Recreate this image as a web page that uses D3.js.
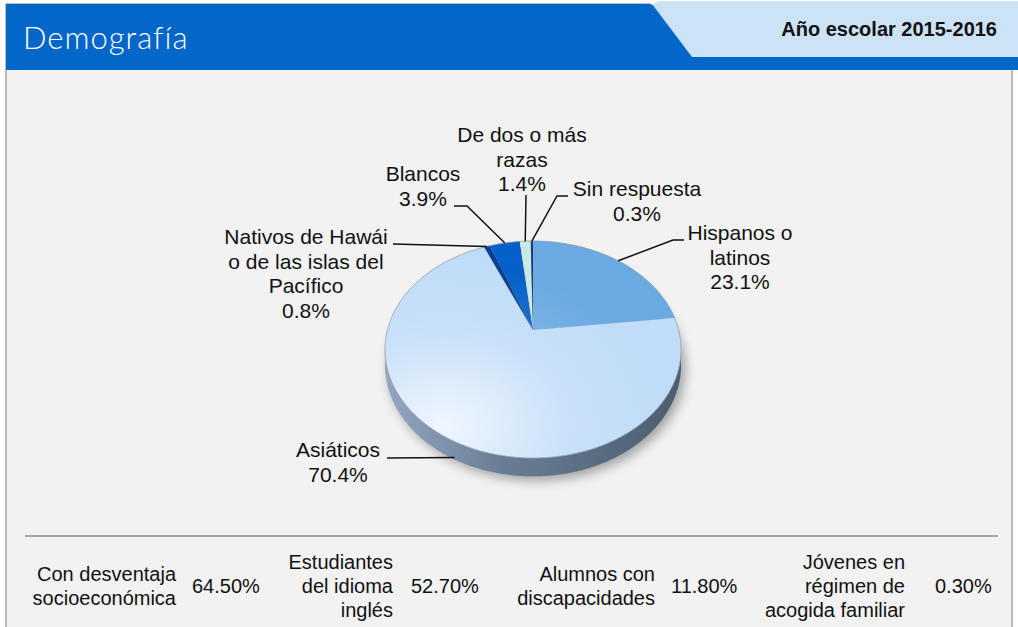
<!DOCTYPE html>
<html>
<head>
<meta charset="utf-8">
<script src="https://cdn.jsdelivr.net/npm/d3@7"></script>
<style>
  body { margin: 0; background: #fff; }
  svg { display: block; font-family: "Liberation Sans", Arial, Helvetica, sans-serif; }
</style>
</head>
<body>
<div id="chart"></div>
<script>
// data
const title = 'Demografía';
const schoolYear = 'Año escolar 2015-2016';
const categories = ['Hispanos o latinos', 'Asiáticos', 'Nativos de Hawái o de las islas del Pacífico', 'Blancos', 'De dos o más razas', 'Sin respuesta'];
const labelLines = [['Hispanos o', 'latinos'], ['Asiáticos'], ['Nativos de Hawái', 'o de las islas del', 'Pacífico'], ['Blancos'], ['De dos o más', 'razas'], ['Sin respuesta']];
const values = [23.1, 70.4, 0.8, 3.9, 1.4, 0.3];
const statLabels = [['Con desventaja', 'socioeconómica'], ['Estudiantes', 'del idioma', 'inglés'], ['Alumnos con', 'discapacidades'], ['Jóvenes en', 'régimen de', 'acogida familiar']];
const statValues = [64.5, 52.7, 11.8, 0.3];

const colors = ['#6aa9e2', '#c0dcf8', '#0a3d95', '#0560c9', '#cbe9e1', '#173f7c'];

// label placement: text centre, first baseline, leader points after the anchor
const labelPos = [
    { x: 740, y: 240, leader: [[673, 240], [684, 240]] },
    { x: 338, y: 457, leader: [[387, 458]], side: true },
    { x: 306, y: 244, leader: [[393, 244]] },
    { x: 423, y: 181, leader: [[467, 206], [454, 206]] },
    { x: 522, y: 142, leader: [[526, 195]] },
    { x: 637, y: 196, leader: [[557, 196], [568, 196]] }
];

const width = 1018, height = 627;
const svg = d3.select('#chart').append('svg').attr('width', width).attr('height', height);
const defs = svg.append('defs');

// panel
svg.append('rect').attr('x', 6).attr('y', 4).attr('width', 1006).attr('height', 640)
    .attr('fill', '#f2f2f2').attr('stroke', '#8f8f8f').attr('stroke-width', 1.2);
svg.append('rect').attr('x', 6).attr('y', 4).attr('width', 1012).attr('height', 66).attr('fill', '#0367c9');
svg.append('path').attr('d', 'M652,4 L659,1 L1018,1 L1018,57 L692,57 Z').attr('fill', '#cce2f5');
svg.append('path').attr('d', 'M646,0 L660,0 L652,5 Z').attr('fill', '#fff');
svg.append('text').attr('x', 23).attr('y', 49).attr('fill', '#fff')
    .style('font-family', 'Lato, "Open Sans", sans-serif').style('font-weight', 300).style('font-size', '31px')
    .style('letter-spacing', '1px')
    .text(title);
svg.append('text').attr('x', 997).attr('y', 36).attr('text-anchor', 'end').attr('fill', '#111')
    .style('font-weight', 'bold').style('font-size', '20px').text(schoolYear);

// pie projection (tilted disc seen in perspective)
const apex = { x: 533, y: 330 }, fx = 145.6, fy = 105, persp = 0.18, depth = 15;
function proj(a, r) {
    r = r == null ? 1 : r;
    const u = r * Math.sin(a), v = r * Math.cos(a), k = 1 + persp * v;
    return [apex.x + fx * u / k, apex.y - fy * v / k];
}
function drop(a) {
    const k = 1 + persp * Math.cos(a);
    return depth / k;
}
function arcPoints(a0, a1) {
    const n = Math.max(2, Math.ceil(Math.abs(a1 - a0) / 0.01));
    return d3.range(n + 1).map(i => a0 + (a1 - a0) * i / n);
}

const arcs = d3.pie().sort(null).value(d => d)(values);

// shadow
const shadow = defs.append('filter').attr('id', 'blur').attr('x', '-20%').attr('y', '-20%').attr('width', '140%').attr('height', '140%');
shadow.append('feGaussianBlur').attr('stdDeviation', 6);
const full = arcPoints(0, 2 * Math.PI);
const line = d3.line();
svg.append('path')
    .attr('d', line(full.map(a => { const p = proj(a); return [p[0] + 4, p[1] + drop(a) + 4]; })) + 'Z')
    .attr('fill', '#000').attr('opacity', 0.35).attr('filter', 'url(#blur)');

// side wall
const sideGrad = defs.append('linearGradient').attr('id', 'side').attr('x1', 0).attr('x2', 1).attr('y1', 0).attr('y2', 0);
sideGrad.append('stop').attr('offset', 0).attr('stop-color', '#93a8c0');
sideGrad.append('stop').attr('offset', 0.4).attr('stop-color', '#687d94');
sideGrad.append('stop').attr('offset', 1).attr('stop-color', '#4c5d70');
const aR = Math.acos(-persp), aL = 2 * Math.PI - aR;
const sideTop = arcPoints(aR, aL).map(a => proj(a));
const sideBot = arcPoints(aL, aR).map(a => { const p = proj(a); return [p[0], p[1] + drop(a)]; });
svg.append('path').attr('d', line(sideTop.concat(sideBot)) + 'Z').attr('fill', 'url(#side)');

// top face slices
svg.append('g').selectAll('path').data(arcs).enter().append('path')
    .attr('d', d => line([[apex.x, apex.y]].concat(arcPoints(d.startAngle, d.endAngle).map(a => proj(a)))) + 'Z')
    .attr('fill', (d, i) => colors[i]);

// light on top face
const shine = defs.append('radialGradient').attr('id', 'shine').attr('cx', 0.2).attr('cy', 0.85).attr('r', 0.75);
shine.append('stop').attr('offset', 0).attr('stop-color', '#fff').attr('stop-opacity', 0.75);
shine.append('stop').attr('offset', 0.55).attr('stop-color', '#fff').attr('stop-opacity', 0.15);
shine.append('stop').attr('offset', 1).attr('stop-color', '#fff').attr('stop-opacity', 0);
svg.append('path').attr('d', line(full.map(a => proj(a))) + 'Z')
    .attr('fill', 'url(#shine)').attr('stroke', '#8e9aa8').attr('stroke-width', 0.8);

// labels + leader lines
const fmt = d3.format('.1f');
const labels = svg.append('g').style('font-size', '21px').attr('fill', '#111');
arcs.forEach((d, i) => {
    const pos = labelPos[i];
    const mid = (d.startAngle + d.endAngle) / 2;
    const a = proj(mid);
    if (pos.side) { a[0] += 8; a[1] += drop(mid) + 2; }
    labels.append('path').attr('d', line([a].concat(pos.leader)))
        .attr('fill', 'none').attr('stroke', '#111').attr('stroke-width', 1.5);
    const t = labels.append('text').attr('text-anchor', 'middle');
    labelLines[i].concat([fmt(values[i]) + '%']).forEach((s, j) => {
        t.append('tspan').attr('x', pos.x).attr('y', pos.y + j * 24.5).text(s);
    });
});

// stats row
svg.append('line').attr('x1', 25).attr('x2', 998).attr('y1', 536).attr('y2', 536)
    .attr('stroke', '#a6a6a6').attr('stroke-width', 2);
const statLabelX = [176, 393, 655, 905];
const statValueX = [192, 411, 671, 935];
const stats = svg.append('g').style('font-size', '20px').attr('fill', '#111');
statLabels.forEach((lines, i) => {
    const t = stats.append('text').attr('text-anchor', 'end');
    const y0 = 593 - (lines.length - 1) * 12;
    lines.forEach((s, j) => t.append('tspan').attr('x', statLabelX[i]).attr('y', y0 + j * 24).text(s));
    stats.append('text').attr('x', statValueX[i]).attr('y', 593).text(d3.format('.2f')(statValues[i]) + '%');
});
</script>
</body>
</html>
